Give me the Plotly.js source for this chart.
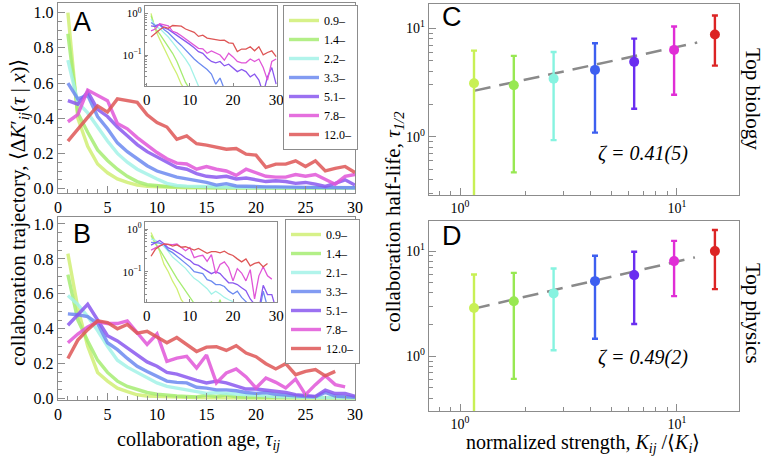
<!DOCTYPE html>
<html><head><meta charset="utf-8">
<script src="https://cdn.plot.ly/plotly-3.0.1.min.js"></script>
<style>html,body{margin:0;padding:0;background:#fff}#chart{width:768px;height:457px}</style>
</head><body><div id="chart"></div>
<script>
// ---------- data ----------
const tau = [1,2,3,4,5,6,7,8,9,10,11,12,13,14,15,16,17,18,19,20,21,22,23,24,25,26,27,28,29,30];
const binLabelsA = ['0.9–','1.4–','2.2–','3.3–','5.1–','7.8–','12.0–'];
const binLabelsB = ['0.9–','1.4–','2.1–','3.3–','5.1–','7.8–','12.0–'];
const ageTicks = [0,5,10,15,20,25,30];
const ageTickText = ['0','5','10','15','20','25','30'];
const insetAgeTicks = [0,10,20,30];
const insetAgeTickText = ['0','10','20','30'];
const trajTicks = [0,0.2,0.4,0.6,0.8,1.0];
const trajTickText = ['0.0','0.2','0.4','0.6','0.8','1.0'];

// Panel A (top biology) trajectories
const bioBin1 = [1.00,0.40,0.24,0.14,0.09,0.055,0.035,0.02,0.013,0.01,0.008,0.006,0.005,0.004,0.004,0.003,0.003,0.003,0.002,0.002,0.002,0.002,0.002,0.002,0.002,0.002,0.002,0.002,0.002,0.002];
const bioBin2 = [0.88,0.43,0.32,0.22,0.16,0.11,0.07,0.04,0.022,0.015,0.012,0.01,0.008,0.007,0.006,0.005,0.005,0.004,0.004,0.004,0.003,0.003,0.003,0.003,0.003,0.003,0.003,0.003,0.003,0.003];
const bioBin3 = [0.73,0.49,0.43,0.35,0.27,0.20,0.15,0.11,0.08,0.055,0.03,0.018,0.014,0.012,0.01,0.009,0.008,0.007,0.006,0.006,0.005,0.005,0.005,0.004,0.004,0.004,0.004,0.004,0.003,0.003];
const bioBin4 = [0.60,0.51,0.53,0.41,0.34,0.26,0.21,0.17,0.13,0.10,0.08,0.065,0.055,0.045,0.035,0.02,0.028,0.015,0.012,0.012,0.01,0.01,0.008,0.008,0.007,0.007,0.006,0.006,0.005,0.005];
const bioBin5 = [0.50,0.48,0.55,0.45,0.41,0.35,0.30,0.25,0.21,0.18,0.15,0.12,0.11,0.085,0.07,0.065,0.07,0.055,0.06,0.05,0.04,0.045,0.04,0.03,0.035,0.025,0.012,0.03,0.05,0.02];
const bioBin6 = [0.38,0.42,0.56,0.53,0.50,0.37,0.34,0.29,0.245,0.205,0.17,0.145,0.14,0.11,0.125,0.11,0.10,0.075,0.11,0.09,0.07,0.065,0.065,0.08,0.07,0.08,0.05,0.025,0.07,0.08];
const bioBin7 = [0.27,0.34,0.405,0.47,0.435,0.51,0.50,0.49,0.42,0.375,0.35,0.28,0.30,0.255,0.247,0.234,0.224,0.228,0.196,0.19,0.121,0.139,0.139,0.158,0.126,0.158,0.101,0.115,0.126,0.092];

// Panel B (top physics) trajectories
const phyBin1 = [0.83,0.52,0.30,0.15,0.10,0.06,0.04,0.022,0.015,0.012,0.01,0.008,0.007,0.006,0.005,0.005,0.004,0.004,0.004,0.003,0.003,0.003,0.003,0.003,0.003,0.003,0.003,0.003,0.003,0.003];
const phyBin2 = [0.71,0.45,0.33,0.22,0.15,0.10,0.07,0.05,0.035,0.025,0.018,0.015,0.012,0.01,0.02,0.012,0.022,0.01,0.008,0.007,0.006,0.006,0.005,0.005,0.005,0.004,0.004,0.004,0.004,0.004];
const phyBin3 = [0.59,0.54,0.47,0.39,0.30,0.22,0.18,0.15,0.12,0.09,0.07,0.06,0.05,0.04,0.03,0.035,0.03,0.025,0.022,0.02,0.015,0.012,0.01,0.008,0.008,0.007,0.006,0.006,0.005,0.005];
const phyBin4 = [0.485,0.48,0.47,0.43,0.32,0.28,0.23,0.185,0.155,0.13,0.10,0.093,0.09,0.065,0.06,0.05,0.05,0.045,0.035,0.03,0.035,0.025,0.02,0.015,0.012,0.01,0.035,0.015,0.01,0.008];
const phyBin5 = [0.42,0.48,0.54,0.45,0.36,0.33,0.29,0.25,0.21,0.185,0.15,0.14,0.12,0.105,0.09,0.10,0.09,0.07,0.055,0.055,0.05,0.042,0.036,0.023,0.017,0.013,0.048,0.029,0.029,0.013];
const phyBin6 = [0.32,0.37,0.41,0.44,0.43,0.43,0.445,0.375,0.31,0.37,0.213,0.232,0.242,0.175,0.25,0.09,0.147,0.17,0.124,0.061,0.118,0.093,0.061,0.112,0.023,0.08,0.131,0.08,0.067,null];
const phyBin7 = [0.23,0.335,0.395,0.445,0.435,0.40,0.425,0.375,0.385,0.35,0.32,0.35,0.31,0.27,0.295,0.297,0.276,0.303,0.261,0.24,0.20,0.17,0.20,0.137,0.156,0.166,0.13,0.156,null,null];

// Panels C, D: half-life vs normalized strength
const strength = [1.16,1.77,2.70,4.19,6.35,9.70,14.96];
const bioHalf = [3.11,2.98,3.43,4.13,4.90,6.32,8.75];
const bioHalfHi = [6.22,5.56,6.05,7.28,8.03,10.4,13.1];
const bioHalfLo = [0.2,0.469,0.93,1.09,1.81,2.44,4.52];
const phyHalf = [2.88,3.34,3.96,5.18,5.91,8.03,10.0];
const phyHalfHi = [6.0,6.21,6.84,9.02,9.85,12.5,15.85];
const phyHalfLo = [0.2,0.61,1.14,1.47,2.03,3.73,4.35];
const bioFitX = [1.17,12.4];
const bioFitY = [2.66,7.38];
const phyFitX = [1.16,12.1];
const phyFitY = [2.84,8.71];

// ---------- styles ----------
const lineColors = ['#d0ef74','#a6ec72','#a3f2e8','#6c8af0','#8a58ef','#e056d8','#de5656'];
const dotColors  = ['#c8f055','#98e852','#86f3e0','#3d5ff0','#6a2ef0','#e02ed6','#dc2424'];

const W = 768, H = 457;
const dx = (a,b) => [a/W, b/W];
const dy = (top,bot) => [1-bot/H, 1-top/H];
const px = p => p/W, py = p => 1-p/H;

const bioBins = [bioBin1,bioBin2,bioBin3,bioBin4,bioBin5,bioBin6,bioBin7];
const phyBins = [phyBin1,phyBin2,phyBin3,phyBin4,phyBin5,phyBin6,phyBin7];

const traces = [];
bioBins.forEach((s,i)=>traces.push({x:tau,y:s,type:'scatter',mode:'lines',xaxis:'x',yaxis:'y',
  name:binLabelsA[i],legend:'legend',line:{color:lineColors[i],width:3.4},opacity:0.85}));
bioBins.forEach((s,i)=>traces.push({x:tau,y:s,type:'scatter',mode:'lines',xaxis:'x2',yaxis:'y2',
  showlegend:false,line:{color:lineColors[i],width:1.3}}));
phyBins.forEach((s,i)=>traces.push({x:tau,y:s,type:'scatter',mode:'lines',xaxis:'x3',yaxis:'y3',
  name:binLabelsB[i],legend:'legend2',line:{color:lineColors[i],width:3.4},opacity:0.85}));
phyBins.forEach((s,i)=>traces.push({x:tau,y:s,type:'scatter',mode:'lines',xaxis:'x4',yaxis:'y4',
  showlegend:false,line:{color:lineColors[i],width:1.3}}));

traces.push({x:bioFitX,y:bioFitY,type:'scatter',mode:'lines',xaxis:'x5',yaxis:'y5',showlegend:false,
  line:{color:'#8a8a8a',width:2.5,dash:'16px,9px'}});
traces.push({x:phyFitX,y:phyFitY,type:'scatter',mode:'lines',xaxis:'x6',yaxis:'y6',showlegend:false,
  line:{color:'#8a8a8a',width:2.5,dash:'16px,9px'}});
strength.forEach((k,i)=>{
  traces.push({x:[k],y:[bioHalf[i]],type:'scatter',mode:'markers',xaxis:'x5',yaxis:'y5',showlegend:false,
    marker:{color:dotColors[i],size:10},
    error_y:{type:'data',symmetric:false,array:[bioHalfHi[i]-bioHalf[i]],arrayminus:[bioHalf[i]-bioHalfLo[i]],
      color:dotColors[i],thickness:2.4,width:3}});
  traces.push({x:[k],y:[phyHalf[i]],type:'scatter',mode:'markers',xaxis:'x6',yaxis:'y6',showlegend:false,
    marker:{color:dotColors[i],size:10},
    error_y:{type:'data',symmetric:false,array:[phyHalfHi[i]-phyHalf[i]],arrayminus:[phyHalf[i]-phyHalfLo[i]],
      color:dotColors[i],thickness:2.4,width:3}});
});

const G = '#8c8c8c';
const serif = 'Liberation Serif';
const tf = size => ({family:serif,size,color:'#000'});
const base = () => ({showline:true,mirror:true,linecolor:G,linewidth:1.2,showgrid:false,zeroline:false,
  ticks:'inside',tickcolor:G,ticklen:7,tickwidth:1,tickfont:tf(16),fixedrange:true});
const mainX = (anchor,dom)=>Object.assign(base(),{anchor,domain:dom,range:[0,30],tickmode:'array',
  tickvals:ageTicks,ticktext:ageTickText,
  minor:{tickmode:'linear',tick0:0,dtick:1,ticks:'inside',ticklen:4,tickcolor:G}});
const mainY = (anchor,dom,rng)=>Object.assign(base(),{anchor,domain:dom,range:rng,tickmode:'array',
  tickvals:trajTicks,ticktext:trajTickText,
  minor:{tickmode:'linear',tick0:0,dtick:0.05,ticks:'inside',ticklen:4,tickcolor:G}});
const insetX = (anchor,dom)=>Object.assign(base(),{anchor,domain:dom,range:[-0.4,30.2],tickmode:'array',
  tickvals:insetAgeTicks,ticktext:insetAgeTickText,ticklen:3,tickfont:tf(15)});
const insetY = (anchor,dom,rng)=>Object.assign(base(),{anchor,domain:dom,type:'log',range:rng,tickmode:'array',
  tickvals:[0.1,1],ticktext:['10<sup>−1</sup>','10<sup>0</sup>'],ticklen:3,tickfont:tf(11),
  minor:{tickmode:'array',tickvals:[0.02,0.03,0.04,0.05,0.06,0.07,0.08,0.09,0.2,0.3,0.4,0.5,0.6,0.7,0.8,0.9],ticks:'inside',ticklen:2,tickcolor:G}});
const logX = (anchor,dom)=>Object.assign(base(),{anchor,domain:dom,type:'log',range:[-0.143,1.286],tickmode:'array',
  tickvals:[1,10],ticktext:['10<sup>0</sup>','10<sup>1</sup>'],tickfont:tf(14),
  minor:{tickmode:'array',tickvals:[0.8,0.9,2,3,4,5,6,7,8,9],ticks:'inside',ticklen:4,tickcolor:G}});
const logY = (anchor,dom,rng)=>Object.assign(base(),{anchor,domain:dom,type:'log',range:rng,tickmode:'array',
  tickvals:[1,10],ticktext:['10<sup>0</sup>','10<sup>1</sup>'],tickfont:tf(14),
  minor:{tickmode:'array',tickvals:[0.3,0.4,0.5,0.6,0.7,0.8,0.9,2,3,4,5,6,7,8,9],ticks:'inside',ticklen:4,tickcolor:G}});

const ann = (text,x,y,size,opts={}) => Object.assign({text,x:px(x),y:py(y),xref:'paper',yref:'paper',showarrow:false,
  xanchor:'center',yanchor:'middle',font:tf(size)},opts);
const sans = () => ({family:'Liberation Sans',size:27,color:'#000'});

const legendBase = () => ({bgcolor:'#fff',bordercolor:G,borderwidth:1,font:tf(12),
  xref:'paper',yref:'paper',xanchor:'left',yanchor:'top',itemwidth:30,tracegroupgap:0});

const layout = {
  width:W,height:H,margin:{l:0,r:0,t:0,b:0},paper_bgcolor:'#fff',plot_bgcolor:'#fff',
  font:{family:serif,size:14,color:'#000'},
  xaxis:mainX('y',dx(58,355)), yaxis:mainY('x',dy(3,193),[-0.025,1.055]),
  xaxis2:insetX('y2',dx(145,277)), yaxis2:insetY('x2',dy(6,86),[-1.743,0.175]),
  xaxis3:mainX('y3',dx(58,355)), yaxis3:mainY('x3',dy(217,400),[-0.008,1.04]),
  xaxis4:insetX('y4',dx(145,277)), yaxis4:insetY('x4',dy(222,302),[-1.71,0.165]),
  xaxis5:logX('y5',dx(429,739)), yaxis5:logY('x5',dy(4,195),[-0.538,1.224]),
  xaxis6:logX('y6',dx(429,739)), yaxis6:logY('x6',dy(221,411),[-0.52,1.286]),
  legend:Object.assign(legendBase(),{x:px(283),y:py(5)}),
  legend2:Object.assign(legendBase(),{x:px(285),y:py(219)}),
  annotations:[
    ann('A',82,22,27,{font:sans()}),
    ann('B',82,234,27,{font:sans()}),
    ann('C',452,17,27,{font:sans()}),
    ann('D',452,236,27,{font:sans()}),
    ann('<i>ζ = 0.41(5)</i>',643,153,20),
    ann('<i>ζ = 0.49(2)</i>',643,357,20),
    ann('Top biology',753,99,21,{textangle:90}),
    ann('Top physics',753,313,21,{textangle:90}),
    ann('collaboration trajectory, ⟨Δ<i>K</i>′<sub><i>ij</i></sub>(<i>τ</i> | <i>x</i>)⟩',19,212,21,{textangle:-90}),
    ann('collaboration age, <i>τ</i><sub><i>ij</i></sub>',198,440,20),
    ann('collaboration half-life, <i>τ</i><sub><i>1/2</i></sub>',394,222,21,{textangle:-90}),
    ann('normalized strength, <i>K</i><sub><i>ij</i></sub> /⟨<i>K</i><sub><i>i</i></sub>⟩',583,443,20)
  ]
};
Plotly.newPlot('chart',traces,layout,{staticPlot:true,displayModeBar:false});
</script></body></html>
